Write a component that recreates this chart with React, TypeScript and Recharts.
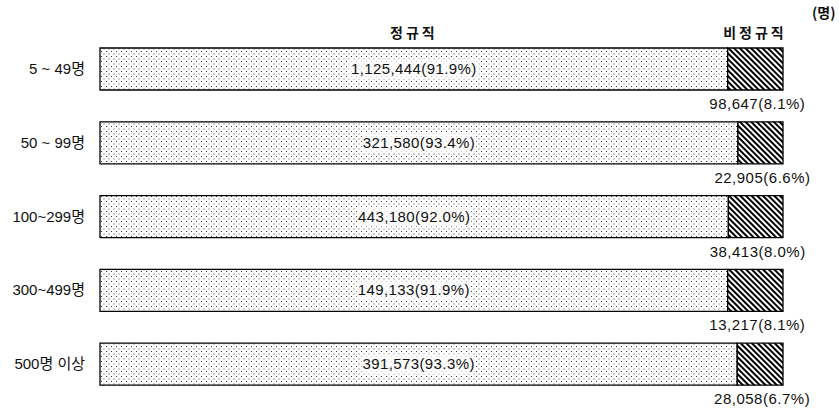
import { BarChart, Bar, XAxis, YAxis, LabelList } from "recharts";

const categories = ["5 ~ 49명", "50 ~ 99명", "100~299명", "300~499명", "500명 이상"];
const regularCount = [1125444, 321580, 443180, 149133, 391573];
const regularPct = [91.9, 93.4, 92.0, 91.9, 93.3];
const nonRegularCount = [98647, 22905, 38413, 13217, 28058];
const nonRegularPct = [8.1, 6.6, 8.0, 8.1, 6.7];

const data = categories.map((name, i) => ({
  name,
  regular: regularPct[i],
  nonRegular: nonRegularPct[i],
  regularCount: regularCount[i],
  nonRegularCount: nonRegularCount[i],
}));

const FONT = "'Liberation Sans', 'Noto Sans CJK KR', sans-serif";
const KFONT = "'Noto Sans CJK KR', sans-serif";
const fmt = (v: number) => v.toLocaleString("en-US");

const CategoryTick = (props: any) => {
  const { y, payload } = props;
  return (
    <text x={85} y={y} dy={5} textAnchor="end" fontSize={15} fill="#111" fontFamily={FONT}>
      {payload.value}
    </text>
  );
};

const RegularLabel = (props: any) => {
  const { x, y, width, height, index } = props;
  const d = data[index];
  const label = `${fmt(d.regularCount)}(${d.regular.toFixed(1)}%)`;
  const cx = x + width / 2;
  const boxW = label.length * 7.9 + 4;
  return (
    <g>
      {index === 0 && (
        <text x={cx} y={y - 10} textAnchor="middle" fontSize={14} fontWeight={700} fill="#111" fontFamily={KFONT} letterSpacing={3}>
          정규직
        </text>
      )}
      <rect x={cx - boxW / 2} y={y + height / 2 - 10} width={boxW} height={20} fill="#fff" opacity={0.75} />
      <text x={cx} y={y + height / 2} dy={5} textAnchor="middle" fontSize={15} fill="#111" fontFamily={FONT} letterSpacing={0.4}>
        {label}
      </text>
    </g>
  );
};

const NonRegularLabel = (props: any) => {
  const { x, y, width, height, index } = props;
  const d = data[index];
  return (
    <g>
      {index === 0 && (
        <text x={x + width - 28} y={y - 10} textAnchor="middle" fontSize={14} fontWeight={700} fill="#111" fontFamily={KFONT} letterSpacing={3}>
          비정규직
        </text>
      )}
      <text x={x + width / 2 + 2} y={y + height + 19} textAnchor="middle" fontSize={15} fill="#111" fontFamily={FONT} letterSpacing={0.5}>
        {`${fmt(d.nonRegularCount)}(${d.nonRegular.toFixed(1)}%)`}
      </text>
    </g>
  );
};

export default function App() {
  return (
    <div style={{ position: "absolute", left: 0, top: 0, width: 839, height: 409, background: "#fff" }}>
      <div style={{ position: "absolute", left: 812, top: 2, fontSize: 14, fontWeight: 700, fontFamily: KFONT, color: "#111" }}>
        (명)
      </div>
      <BarChart
        width={839}
        height={409}
        data={data}
        layout="vertical"
        margin={{ top: 32, right: 56, bottom: 8, left: 0 }}
        barSize={42}
      >
        <defs>
          <pattern id="dots" width="5" height="5" patternUnits="userSpaceOnUse">
            <rect width="5" height="5" fill="#fff" />
            <rect x="1" y="1" width="1" height="1" fill="#333" />
            <rect x="3.5" y="3.5" width="1" height="1" fill="#555" />
          </pattern>
          <pattern id="hatch" width="4" height="4" patternUnits="userSpaceOnUse" patternTransform="rotate(-45)">
            <rect width="4" height="4" fill="#fff" />
            <line x1="1" y1="0" x2="1" y2="4" stroke="#000" strokeWidth="2" />
          </pattern>
        </defs>
        <XAxis type="number" domain={[0, 100]} hide />
        <YAxis
          type="category"
          dataKey="name"
          width={100}
          axisLine={false}
          tickLine={false}
          tick={<CategoryTick />}
        />
        <Bar dataKey="regular" stackId="a" fill="url(#dots)" stroke="#000" strokeWidth={1.3} isAnimationActive={false}>
          <LabelList dataKey="regular" content={<RegularLabel />} />
        </Bar>
        <Bar dataKey="nonRegular" stackId="a" fill="url(#hatch)" stroke="#000" strokeWidth={1.3} isAnimationActive={false}>
          <LabelList dataKey="nonRegular" content={<NonRegularLabel />} />
        </Bar>
      </BarChart>
    </div>
  );
}
